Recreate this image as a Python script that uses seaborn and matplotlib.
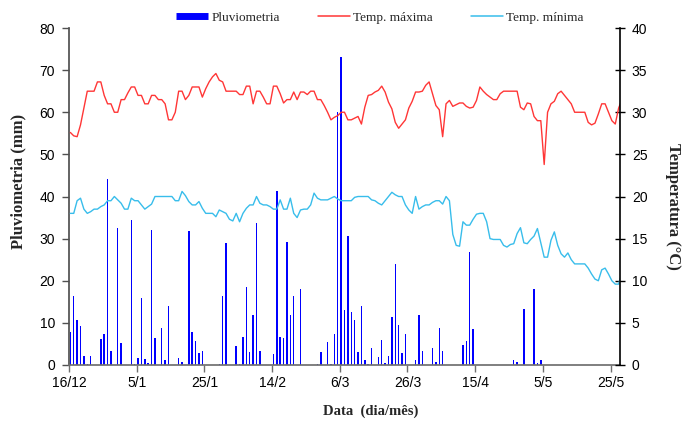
import numpy as np
import pandas as pd
import matplotlib.pyplot as plt
import seaborn as sns
from matplotlib.lines import Line2D

# Daily series, day 0 = 16/12
temp_maxima = [
    27.6, 27.2, 27.1, 28.5, 30.5, 32.5, 32.5, 32.5, 33.6, 33.6,
    32.0, 31.0, 31.0, 30.0, 30.0, 31.5, 31.5, 32.3, 33.0, 33.0,
    32.0, 32.0, 31.0, 31.0, 32.0, 32.0, 31.5, 31.5, 31.0, 29.1,
    29.1, 30.0, 32.5, 32.5, 31.5, 32.0, 33.0, 33.0, 33.0, 31.8,
    32.8, 33.6, 34.2, 34.6, 33.8, 33.6, 32.5, 32.5, 32.5, 32.5,
    32.1, 32.1, 33.1, 33.1, 31.0, 32.5, 32.5, 31.8, 31.0, 31.0,
    33.1, 33.1, 32.2, 31.1, 31.5, 31.5, 32.4, 31.5, 32.4, 32.4,
    32.1, 32.5, 32.5, 31.5, 31.5, 30.8, 30.0, 29.1, 29.4, 29.6,
    30.0, 30.0, 29.1, 29.1, 29.3, 29.5, 28.6, 30.6, 32.0, 32.1,
    32.4, 32.6, 33.1, 32.4, 31.2, 30.4, 28.8, 28.1, 28.6, 29.1,
    30.5, 31.3, 32.4, 32.4, 32.5, 33.2, 33.6, 32.2, 30.8, 30.3,
    27.1, 31.0, 31.4, 30.7, 30.9, 31.1, 31.1, 30.7, 30.5, 30.6,
    31.4, 33.0, 32.5, 32.1, 31.8, 31.5, 31.5, 32.2, 32.5, 32.5,
    32.5, 32.5, 32.5, 30.6, 30.3, 31.1, 31.0, 29.5, 29.0, 29.0,
    23.8, 30.0, 31.0, 31.3, 32.2, 32.5, 32.0, 31.5, 31.0, 30.0,
    30.0, 30.0, 30.0, 28.8, 28.5, 28.7, 29.8, 31.0, 31.0, 30.0,
    29.0, 28.6, 30.5, 31.5,
]
temp_minima = [
    18.0, 18.0, 19.5, 19.8, 18.5, 18.0, 18.2, 18.5, 18.5, 18.8,
    19.0, 19.5, 19.5, 20.0, 19.6, 19.2, 18.5, 18.5, 19.8, 19.5,
    19.5, 19.0, 18.5, 18.8, 19.1, 20.0, 20.0, 20.0, 20.0, 20.0,
    20.0, 19.5, 19.5, 20.6, 20.1, 19.4, 19.0, 19.0, 19.4, 18.6,
    18.0, 18.0, 18.0, 17.6, 18.4, 18.2, 18.0, 17.3, 17.1, 18.0,
    17.0, 18.0, 18.6, 19.0, 19.0, 20.0, 19.2, 19.0, 19.0, 18.8,
    18.5, 18.5, 19.6, 18.5, 18.5, 19.8, 18.0, 17.5, 18.4, 18.5,
    18.5, 19.0, 20.4, 19.8, 19.6, 19.6, 19.6, 19.8, 20.0, 19.7,
    19.5, 19.5, 19.5, 19.5, 19.9, 20.0, 20.0, 20.0, 20.0, 19.6,
    19.5, 19.2, 19.0, 19.5, 20.0, 20.5, 20.2, 20.0, 20.0, 19.0,
    18.4, 18.0, 20.0, 18.5, 18.8, 19.0, 19.0, 19.3, 19.5, 19.5,
    19.1, 20.0, 19.5, 15.5, 14.2, 14.1, 17.0, 16.6, 16.6, 17.3,
    17.9, 18.0, 18.0, 17.0, 15.0, 14.9, 14.9, 14.9, 14.2, 14.0,
    14.3, 14.4, 15.6, 16.3, 14.5, 14.4, 14.9, 15.3, 16.2, 14.5,
    12.8, 12.8, 14.8, 15.8, 14.2, 13.2, 12.8, 13.3, 12.5, 12.0,
    12.0, 12.0, 12.0, 11.5, 10.8, 10.2, 10.0, 11.3, 11.5, 10.8,
    10.0, 9.6, 9.6, 11.0,
]
dias_chuva = [
    0, 1, 2, 3, 4, 5, 6, 9, 10, 11, 12, 14, 15, 18, 19, 20, 21, 22, 23, 24,
    25, 27, 28, 29, 32, 33, 35, 36, 37, 38, 39, 44, 45, 46, 49, 50, 51, 52,
    53, 54, 55, 56, 60, 61, 62, 63, 64, 65, 66, 68, 73, 74, 76, 77, 78, 79,
    80, 81, 82, 83, 84, 85, 86, 87, 88, 89, 91, 92, 93, 94, 95, 96, 97, 98,
    99, 102, 103, 104, 107, 108, 109, 110, 116, 117, 118, 119, 131, 132,
    134, 137, 138, 139,
]
chuva_mm = [
    7.9, 16.4, 10.7, 9.3, 2.1, 0.2, 2.1, 6.2, 7.3, 44.2, 3.3, 32.5, 5.3,
    34.4, 0.3, 1.6, 15.8, 1.5, 0.5, 32.0, 6.5, 8.7, 1.2, 14.1, 1.7, 0.6,
    31.7, 7.9, 5.7, 2.8, 3.3, 0.3, 16.4, 28.9, 4.5, 0.3, 6.7, 18.4, 3.1,
    11.9, 33.6, 3.3, 2.5, 41.3, 6.6, 6.3, 29.1, 11.9, 16.4, 18.0, 0.3, 3.0,
    5.4, 0.3, 7.4, 60.0, 73.1, 13.1, 30.6, 12.6, 10.7, 3.2, 13.9, 1.2, 0.3,
    4.0, 1.9, 5.9, 0.5, 2.1, 11.3, 24.0, 9.6, 2.8, 7.3, 1.2, 11.9, 3.3, 4.0,
    0.6, 8.8, 3.3, 4.8, 5.6, 26.9, 8.5, 1.2, 0.6, 13.2, 18.0, 0.5, 1.2,
]
tick_dias = [0, 20, 40, 60, 80, 100, 120, 140, 160]
tick_labels = ['16/12', '5/1', '25/1', '14/2', '6/3', '26/3', '15/4', '5/5', '25/5']

temp = pd.DataFrame({
    'dia': np.arange(len(temp_maxima)) + 0.4,
    'maxima': temp_maxima,
    'minima': temp_minima,
})

sns.set_theme(style='ticks')
plt.rcParams['font.family'] = ['Liberation Sans', 'DejaVu Sans']
serif = {'family': 'Liberation Serif', 'weight': 'bold', 'size': 10.5}
serif_v = dict(serif, size=12)

fig = plt.figure(figsize=(6.83, 4.21), dpi=100)
ax = fig.add_axes([69 / 683, 1 - 365 / 421, 551 / 683, 337 / 421])

ax.bar(np.array(dias_chuva) + 0.4, chuva_mm, width=0.42, color='#0000FF', linewidth=0)

ax2 = ax.twinx()
sns.lineplot(data=temp, x='dia', y='maxima', color='#FF3636', lw=1.0, ax=ax2)
sns.lineplot(data=temp, x='dia', y='minima', color='#38BDEB', lw=1.0, ax=ax2)

ax.set_xlim(0, 162.8)
ax.set_ylim(0, 80)
ax2.set_ylim(0, 40)
ax.set_xticks(tick_dias, tick_labels)
ax.set_yticks(range(0, 81, 10))
ax2.set_yticks(range(0, 41, 5))
ax.set_xlabel('')
ax.set_ylabel('')
ax2.set_xlabel('')
ax2.set_ylabel('')

for a in (ax, ax2):
    a.spines['top'].set_visible(False)
ax.spines['right'].set_visible(False)
ax2.spines['left'].set_visible(False)
ax2.spines['bottom'].set_visible(False)
ax.spines['left'].set_color('#505050')
ax.spines['bottom'].set_color('#707070')
ax2.spines['right'].set_color('black')
ax2.spines['right'].set_linewidth(1.2)

ax.tick_params(axis='y', direction='out', length=5, width=1, color='#505050',
               labelsize=10, pad=5, labelcolor='black')
ax.tick_params(axis='x', direction='out', length=5, width=1, color='#707070',
               labelsize=10, pad=3, labelcolor='black')
ax2.tick_params(axis='y', direction='inout', length=7, width=1, color='black',
                labelsize=10, pad=5, labelcolor='black')

fig.text(18 / 683, 1 - 181 / 421, 'Pluviometria (mm)', rotation=90,
         ha='center', va='center', fontdict=serif_v)
fig.text(673 / 683, 1 - 206 / 421, 'Temperatura (°C)', rotation=270,
         ha='center', va='center', fontdict=serif_v)
fig.text(371 / 683, 1 - 411 / 421, 'Data  (dia/mês)',
         ha='center', va='center', fontdict=serif)

handles = [
    Line2D([], [], color='#0000FF', lw=5, solid_capstyle='butt'),
    Line2D([], [], color='#FF3636', lw=1.1),
    Line2D([], [], color='#38BDEB', lw=1.1),
]
fig.legend(handles, ['Pluviometria', 'Temp. máxima', 'Temp. mínima'],
           loc='center', bbox_to_anchor=(380 / 683, 1 - 18 / 421), ncol=3,
           frameon=False, prop={'family': 'Liberation Serif', 'size': 9.5},
           handlelength=2.4, handletextpad=0.25, columnspacing=2.9)

fig.savefig('out.png', dpi=100)
